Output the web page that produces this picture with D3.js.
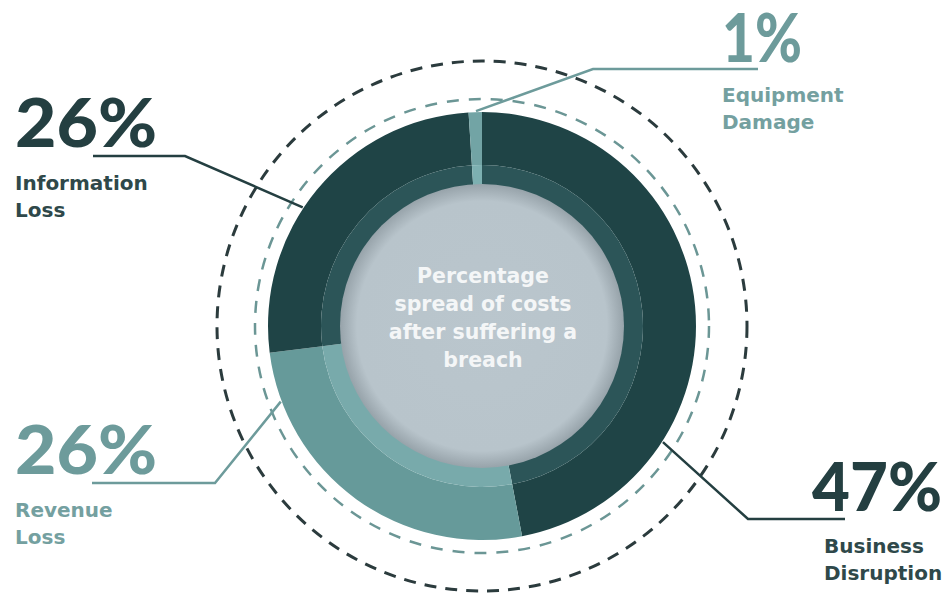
<!DOCTYPE html>
<html>
<head>
<meta charset="utf-8">
<script src="https://cdn.jsdelivr.net/npm/d3@7"></script>
<style>
  body { margin: 0; background: #fff; }
  svg { display: block; }
</style>
</head>
<body>
<div id="chart-area"></div>
<script>
// data
let categories = ["Business Disruption", "Revenue Loss", "Information Loss", "Equipment Damage"];
let shares = [47, 26, 26, 1];
let outerColors = ["#1f4446", "#669a9a", "#1f4446", "#72a4a5"];
let innerColors = ["#2c5558", "#78aaab", "#2c5558", "#7db0b1"];
let textColors = ["#243f41", "#6d9b9b", "#243f41", "#6d9b9b"];
let centerLines = ["Percentage", "spread of costs", "after suffering a", "breach"];

let width = 951, height = 597;
let cx = 482, cy = 326;
let rGrey = 142, rBand = 161, rOuter = 214;

// where each label sits and where its leader touches the ring (degrees, clockwise from top)
let labelLayout = [
    {x: 942, y: 511, anchor: "end", lx: 824, ly: 553, anchorDeg: 122.7, path: [[748, 519], [845, 519]], numLen: 130},
    {x: 15, y: 474, anchor: "start", lx: 15, ly: 517, anchorDeg: 249.4, path: [[215, 483], [92, 483]], numLen: 142},
    {x: 15, y: 147, anchor: "start", lx: 15, ly: 190, anchorDeg: 303.5, path: [[185, 156], [93, 156]], numLen: 142},
    {x: 722, y: 62, anchor: "start", lx: 722, ly: 102, anchorDeg: 358.4, path: [[593, 69], [758, 69]], numLen: 80}
];

let data = categories.map((c, i) => ({name: c, value: shares[i], i: i}));

let svg = d3.select("#chart-area")
    .append("svg")
        .attr("width", width)
        .attr("height", height);

let defs = svg.append("defs");
let grad = defs.append("radialGradient").attr("id", "greyShade");
grad.append("stop").attr("offset", "0%").attr("stop-color", "#bac6cd");
grad.append("stop").attr("offset", "88%").attr("stop-color", "#b8c4cb");
grad.append("stop").attr("offset", "100%").attr("stop-color", "#97a3aa");

let g = svg.append("g")
    .attr("transform", "translate(" + cx + ", " + cy + ")");

// dashed guide circles
g.append("circle")
    .attr("r", 265)
    .attr("fill", "none")
    .attr("stroke", "#2b3b3d")
    .attr("stroke-width", 3)
    .attr("stroke-dasharray", "12,9");

g.append("circle")
    .attr("r", 227)
    .attr("fill", "none")
    .attr("stroke", "#6b9695")
    .attr("stroke-width", 2.5)
    .attr("stroke-dasharray", "12,10");

let pie = d3.pie()
    .sort(null)
    .value(d => d.value)
    .startAngle(0)
    .endAngle(2 * Math.PI);

let arcs = pie(data);

let outerArc = d3.arc().innerRadius(rBand).outerRadius(rOuter);
let bandArc = d3.arc().innerRadius(rGrey - 2).outerRadius(rBand);

g.selectAll(".outer")
    .data(arcs)
    .enter()
    .append("path")
        .attr("class", "outer")
        .attr("d", outerArc)
        .attr("fill", d => outerColors[d.data.i]);

g.selectAll(".band")
    .data(arcs)
    .enter()
    .append("path")
        .attr("class", "band")
        .attr("d", bandArc)
        .attr("fill", d => innerColors[d.data.i]);

g.append("circle")
    .attr("r", rGrey)
    .attr("fill", "url(#greyShade)");

// centre text
g.selectAll(".center-text")
    .data(centerLines)
    .enter()
    .append("text")
        .attr("class", "center-text")
        .attr("x", 1)
        .attr("y", (d, i) => -43 + i * 28)
        .attr("text-anchor", "middle")
        .attr("font-family", "DejaVu Sans")
        .attr("font-weight", "bold")
        .attr("font-size", "20.5px")
        .attr("fill", "#f4f6f7")
        .text(d => d);

// leader lines
let line = d3.line();
labelLayout.forEach((l, i) => {
    let a = l.anchorDeg * Math.PI / 180;
    let r = rOuter + 1;
    let anchor = [cx + r * Math.sin(a), cy - r * Math.cos(a)];
    svg.append("path")
        .attr("d", line([anchor].concat(l.path)))
        .attr("fill", "none")
        .attr("stroke", textColors[i])
        .attr("stroke-width", 2.5);
});

// labels
let labels = svg.selectAll(".label")
    .data(arcs)
    .enter()
    .append("g")
        .attr("class", "label");

labels.append("text")
    .attr("x", d => labelLayout[d.data.i].x)
    .attr("y", d => labelLayout[d.data.i].y)
    .attr("text-anchor", d => labelLayout[d.data.i].anchor)
    .attr("font-family", "Lato, DejaVu Sans")
    .attr("font-weight", 900)
    .attr("font-size", "66px")
    .attr("textLength", d => labelLayout[d.data.i].numLen)
    .attr("lengthAdjust", "spacingAndGlyphs")
    .attr("fill", d => textColors[d.data.i])
    .text(d => d.data.value + "%");

labels.each(function(d) {
    let l = labelLayout[d.data.i];
    d3.select(this).selectAll(".name")
        .data(d.data.name.split(" "))
        .enter()
        .append("text")
            .attr("class", "name")
            .attr("x", l.lx)
            .attr("y", (w, k) => l.ly + k * 26.5)
            .attr("font-family", "DejaVu Sans")
            .attr("font-weight", "bold")
            .attr("font-size", "20px")
            .attr("fill", textColors[d.data.i])
            .attr("opacity", 0.95)
            .text(w => w);
});
</script>
</body>
</html>
